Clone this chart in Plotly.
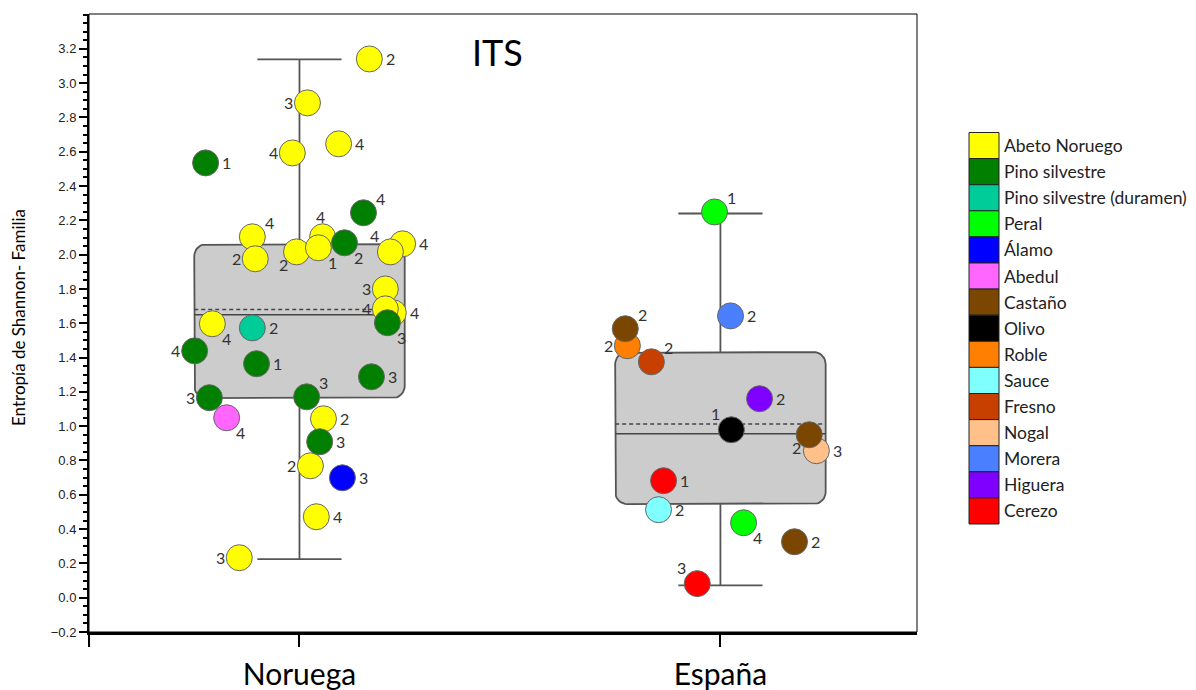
import numpy as np
import plotly.graph_objects as go

# ---------------- data ----------------
categories = ["Noruega", "España"]

legend_species = ["Abeto Noruego", "Pino silvestre", "Pino silvestre (duramen)", "Peral",
                  "Álamo", "Abedul", "Castaño", "Olivo", "Roble", "Sauce", "Fresno",
                  "Nogal", "Morera", "Higuera", "Cerezo"]
legend_colors = ["#FFFF00", "#007F00", "#00CC99", "#00FF00", "#0000FF", "#FF66FF",
                 "#7B4600", "#000000", "#FF7F00", "#80FFFF", "#C84000", "#FFC08A",
                 "#4A80FF", "#7F00FF", "#FF0000"]

y_ticks = [-0.2, 0.0, 0.2, 0.4, 0.6, 0.8, 1.0, 1.2, 1.4, 1.6, 1.8, 2.0, 2.2, 2.4, 2.6,
           2.8, 3.0, 3.2]

# box statistics per category
box_q1 = [1.164, 0.546]
box_q3 = [2.061, 1.432]
box_median = [1.649, 0.956]
box_mean = [1.680, 1.012]
whisker_low = [0.225, 0.072]
whisker_high = [3.139, 2.240]

# Noruega samples
nor_species = ["Abeto Noruego"] * 19 + ["Pino silvestre"] * 10 + \
              ["Pino silvestre (duramen)", "Abedul", "Álamo"]
nor_values = [3.141, 2.885, 2.593, 2.646, 2.104, 2.104, 2.063, 1.661, 1.976, 2.016,
              2.040, 2.016, 1.800, 1.684, 1.597, 1.043, 0.769, 0.472, 0.233,
              2.535, 2.244, 2.069, 1.603, 1.439, 1.364, 1.288, 1.166, 1.171, 0.909,
              1.573, 1.049, 0.699]
nor_labels = ["2", "3", "4", "4", "4", "4", "4", "4", "2", "2",
              "1", "4", "3", "4", "4", "2", "2", "4", "3",
              "1", "4", "2", "3", "4", "1", "3", "3", "3", "3",
              "2", "4", "3"]
nor_jitter = [0.166, 0.019, -0.017, 0.093, -0.112, 0.055, 0.245, 0.223, -0.105, -0.007,
              0.045, 0.216, 0.204, 0.204, -0.207, 0.057, 0.026, 0.040, -0.143,
              -0.223, 0.152, 0.107, 0.209, -0.249, -0.102, 0.171, -0.214, 0.017, 0.048,
              -0.112, -0.173, 0.102]
nor_labelside = ["r", "l", "l", "r", "tr", "t", "r", "r", "l", "bl",
                 "br", "tl", "l", "l", "br", "r", "l", "r", "l",
                 "r", "tr", "br", "br", "l", "r", "r", "l", "tr", "r",
                 "r", "br", "r"]

# España samples
esp_species = ["Peral", "Peral", "Morera", "Roble", "Nogal", "Fresno", "Higuera", "Olivo",
               "Cerezo", "Cerezo", "Sauce", "Castaño", "Castaño", "Castaño"]
esp_values = [2.249, 0.437, 1.643, 1.469, 0.857, 1.375, 1.160, 0.979,
              0.682, 0.082, 0.513, 1.568, 0.950, 0.326]
esp_labels = ["1", "4", "2", "2", "3", "2", "2", "1", "1", "3", "2", "2", "2", "2"]
esp_jitter = [-0.014, 0.055, 0.024, -0.221, 0.228, -0.164, 0.093, 0.026,
              -0.135, -0.055, -0.147, -0.226, 0.211, 0.176]
esp_labelside = ["tr", "br", "r", "l", "r", "tr", "r", "tl", "r", "tl", "r", "tr", "bl", "r"]

# drawing order (later on top)
draw_order = ["Abeto Noruego", "Pino silvestre", "Pino silvestre (duramen)", "Abedul", "Álamo",
              "Peral", "Morera", "Roble", "Nogal", "Fresno", "Higuera", "Sauce", "Cerezo",
              "Castaño", "Olivo"]

# ---------------- layout geometry ----------------
BODY = 8                     # default page margin around the plot div
W, H = 1196 - BODY, 690 - BODY
PL, PR, PT, PB = 89, 917, 14, 632   # plot area in window pixels
ML, MT = PL - BODY, PT - BODY
MR, MB = W - (PR - BODY), H - (PB - BODY)
XR = [-0.5, 1.467]
YR = [-0.2, 3.403]
pw, ph = PR - PL, PB - PT
px_x = pw / (XR[1] - XR[0])
px_y = ph / (YR[1] - YR[0])


def paper_x(sx):
    return (sx - PL) / pw


def paper_y(sy):
    return (PB - sy) / ph


FONT = "Lato, 'Open Sans', sans-serif"
BOX_HALF = 0.25
CAP_HALF = 0.1
EDGE = "#555555"
SIDE_OFFSET = {"r": (21, 0), "l": (-19, 0), "tr": (17, -14), "tl": (-16, -16),
               "br": (14, 15), "bl": (-13, 13), "t": (-2, -20)}

fig = go.Figure()


def rounded_rect(xc, half, y0, y1, rpx=12, n=10):
    rx, ry = rpx / px_x, rpx / px_y
    corners = [(xc + half - rx, y1 - ry, 0, 90), (xc - half + rx, y1 - ry, 90, 180),
               (xc - half + rx, y0 + ry, 180, 270), (xc + half - rx, y0 + ry, 270, 360)]
    xs, ys = [], []
    for cx, cy, a0, a1 in corners:
        for t in np.linspace(np.radians(a0), np.radians(a1), n):
            xs.append(cx + rx * np.cos(t))
            ys.append(cy + ry * np.sin(t))
    xs.append(xs[0]); ys.append(ys[0])
    return xs, ys


for i, cat in enumerate(categories):
    fig.add_trace(go.Scatter(x=[i, i, None, i, i], y=[box_q3[i], whisker_high[i], None, box_q1[i], whisker_low[i]],
                             mode="lines", line=dict(color=EDGE, width=1.8), hoverinfo="skip", showlegend=False))
    fig.add_trace(go.Scatter(x=[i - CAP_HALF, i + CAP_HALF, None, i - CAP_HALF, i + CAP_HALF],
                             y=[whisker_high[i], whisker_high[i], None, whisker_low[i], whisker_low[i]],
                             mode="lines", line=dict(color=EDGE, width=1.8), hoverinfo="skip", showlegend=False))
    bx, by = rounded_rect(i, BOX_HALF, box_q1[i], box_q3[i])
    fig.add_trace(go.Scatter(x=bx, y=by, mode="lines", fill="toself", fillcolor="#CCCCCC",
                             line=dict(color=EDGE, width=1.8), hoverinfo="skip", showlegend=False))
    fig.add_trace(go.Scatter(x=[i - BOX_HALF, i + BOX_HALF], y=[box_median[i]] * 2, mode="lines",
                             line=dict(color="#444444", width=1.5), hoverinfo="skip", showlegend=False))
    fig.add_trace(go.Scatter(x=[i - BOX_HALF, i + BOX_HALF], y=[box_mean[i]] * 2, mode="lines",
                             line=dict(color="#444444", width=1.5, dash="4px,3px"), hoverinfo="skip",
                             showlegend=False))

color_of = dict(zip(legend_species, legend_colors))
groups = [(0, nor_species, nor_values, nor_labels, nor_jitter, nor_labelside),
          (1, esp_species, esp_values, esp_labels, esp_jitter, esp_labelside)]

annotations = []
for sp in draw_order:
    xs, ys = [], []
    for gi, s_l, v_l, l_l, j_l, p_l in groups:
        for s, v, l, j, p in zip(s_l, v_l, l_l, j_l, p_l):
            if s == sp:
                xs.append(gi + j); ys.append(v)
                dx, dy = SIDE_OFFSET[p]
                annotations.append(dict(x=gi + j, y=v, xref="x", yref="y", text=l, showarrow=False,
                                        xanchor="center", yanchor="middle", xshift=dx, yshift=-dy,
                                        font=dict(family=FONT, size=16, color="#333333")))
    if not xs:
        continue
    fig.add_trace(go.Scatter(
        x=xs, y=ys, mode="markers", name=sp,
        marker=dict(size=26, color=color_of[sp], line=dict(color="#666666", width=1)),
        showlegend=False))

# ---------------- manual legend ----------------
shapes = [dict(type="rect", xref="paper", yref="paper", x0=0, x1=1, y0=0, y1=1,
               line=dict(color="black", width=1), layer="above")]
item_h = 26.1
top_px = 132.5
for k, (sp, col) in enumerate(zip(legend_species, legend_colors)):
    y0px = top_px + k * item_h
    y1px = y0px + item_h
    shapes.append(dict(type="rect", xref="paper", yref="paper",
                       x0=paper_x(969), x1=paper_x(999),
                       y0=paper_y(y1px), y1=paper_y(y0px),
                       fillcolor=col, line=dict(color="#222222", width=1)))
    annotations.append(dict(xref="paper", yref="paper", x=paper_x(1002),
                            y=paper_y((y0px + y1px) / 2), text=sp, showarrow=False,
                            xanchor="left", yanchor="middle",
                            font=dict(family=FONT, size=17.5, color="#222222")))

annotations.append(dict(xref="paper", yref="paper", x=paper_x(497), y=paper_y(52),
                        text="ITS", showarrow=False, xanchor="center", yanchor="middle",
                        font=dict(family=FONT, size=36, color="black")))
annotations.append(dict(xref="paper", yref="paper", x=paper_x(18), y=paper_y(318),
                        text="Entropía de Shannon- Familia", showarrow=False, textangle=-90,
                        xanchor="center", yanchor="middle",
                        font=dict(family=FONT, size=17, color="black")))

fig.update_layout(
    width=W, height=H, margin=dict(l=ML, r=MR, t=MT, b=MB, autoexpand=False),
    plot_bgcolor="white", paper_bgcolor="white", showlegend=False,
    shapes=shapes, annotations=annotations,
    xaxis=dict(range=XR, tickvals=[-0.5, 0, 1], ticktext=["", categories[0], categories[1]],
               ticks="outside", ticklen=12, tickwidth=1.5, tickcolor="black", automargin=False,
               showline=True, linecolor="black", linewidth=2.5, showgrid=False, zeroline=False,
               tickfont=dict(family=FONT, size=30, color="black"), ticklabelstandoff=2),
    yaxis=dict(range=YR, tickvals=y_ticks, tickformat=".1f", ticks="outside", ticklen=8,
               tickwidth=1.5, tickcolor="black", showline=True, linecolor="black", linewidth=2,
               showgrid=False, zeroline=False, automargin=False,
               minor=dict(dtick=0.05, tick0=0, ticks="outside", ticklen=4, tickcolor="black",
                          showgrid=False),
               tickfont=dict(family="Liberation Sans, Arial, sans-serif", size=13, color="#222222")),
)

fig.write_html("out.html")
